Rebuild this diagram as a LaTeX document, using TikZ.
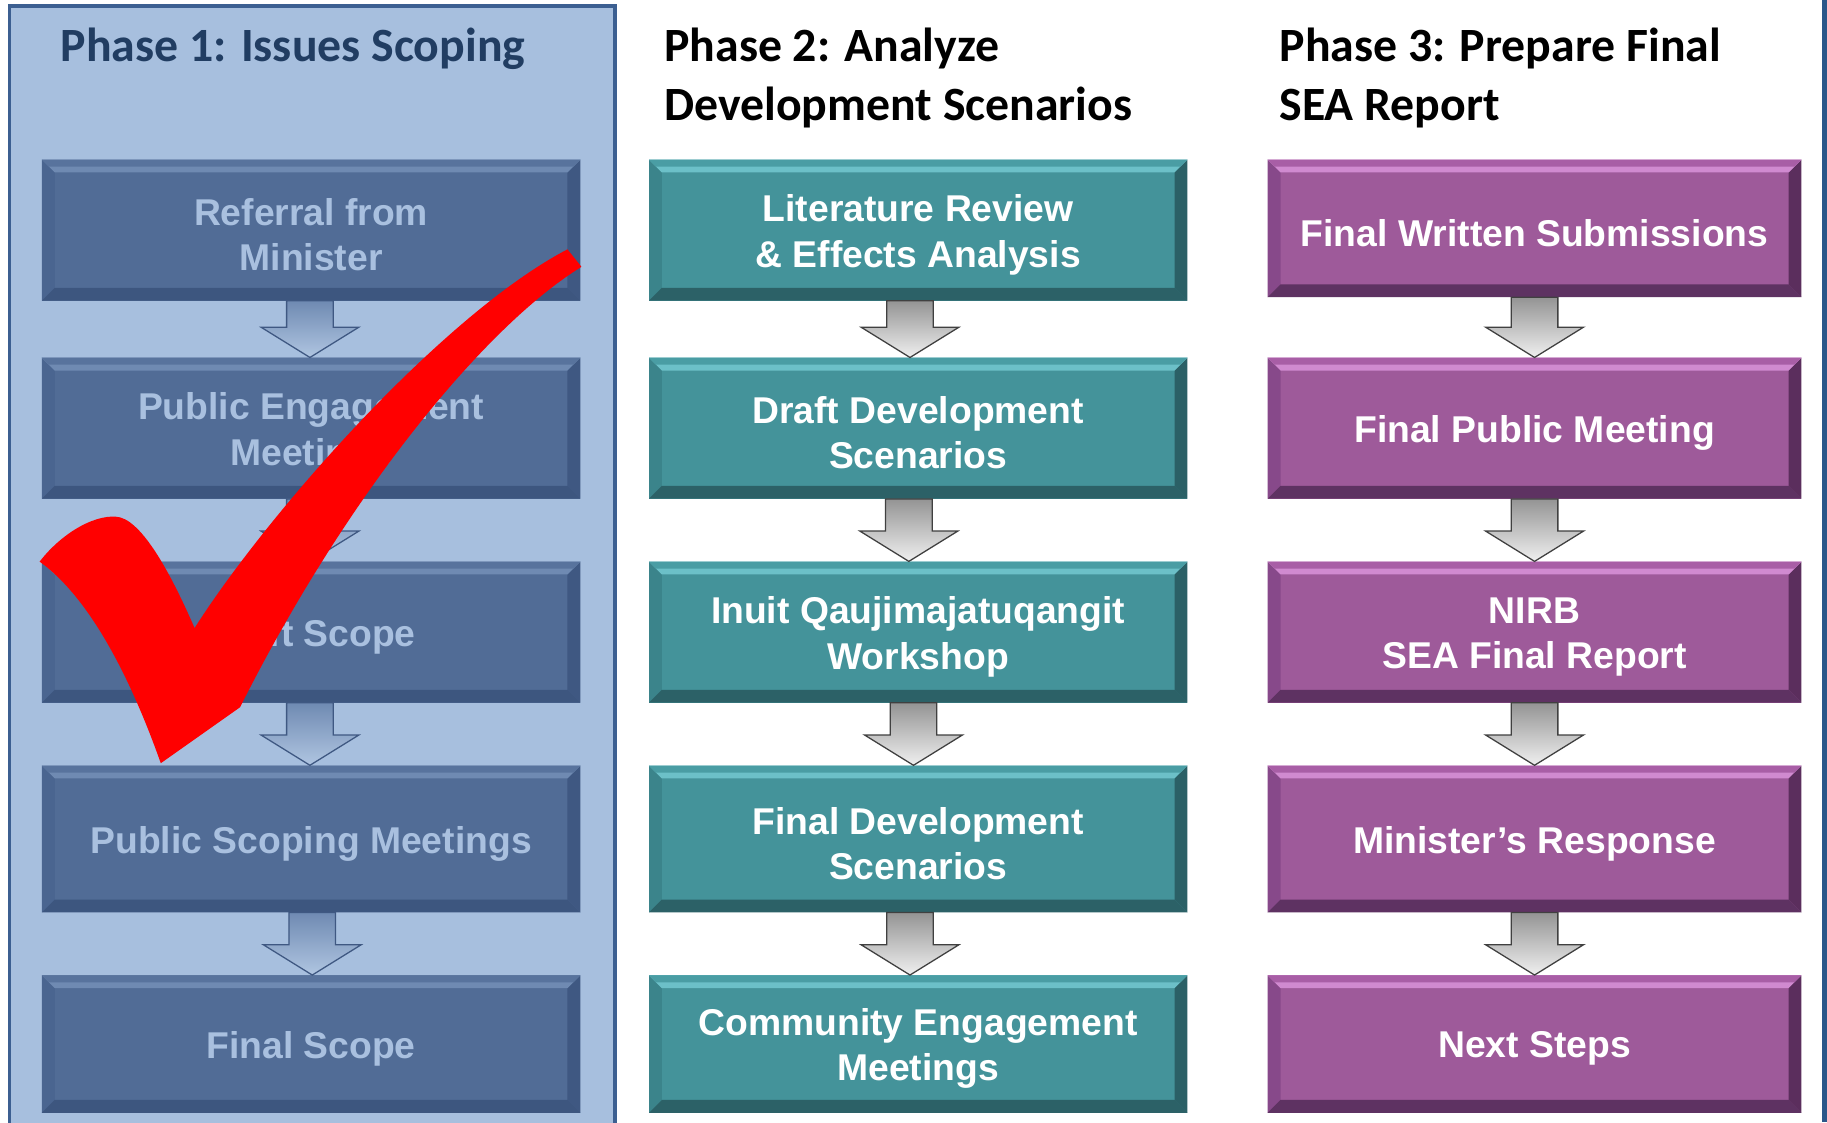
\documentclass[tikz,border=0pt]{standalone}
\usepackage{fontspec}
\setmainfont{Liberation Sans}
\newfontfamily\titlefont{Carlito}
\usetikzlibrary{calc}
\definecolor{pOneFace}{HTML}{516C96}
\definecolor{pOneTopMid}{HTML}{58739D}
\definecolor{pOneTop}{HTML}{6F8AB2}
\definecolor{pOneLeft}{HTML}{4A6590}
\definecolor{pOneRight}{HTML}{3F5882}
\definecolor{pOneBot}{HTML}{3D567F}
\definecolor{pOneText}{HTML}{A9C0DF}
\definecolor{pTwoFace}{HTML}{44939A}
\definecolor{pTwoTopMid}{HTML}{4A9DA4}
\definecolor{pTwoTop}{HTML}{6CC0C8}
\definecolor{pTwoLeft}{HTML}{3B848B}
\definecolor{pTwoRight}{HTML}{2B6066}
\definecolor{pTwoBot}{HTML}{2C6167}
\definecolor{pTwoText}{HTML}{FFFFFF}
\definecolor{pThreeFace}{HTML}{9E5A9A}
\definecolor{pThreeTopMid}{HTML}{A85EA6}
\definecolor{pThreeTop}{HTML}{D08AD0}
\definecolor{pThreeLeft}{HTML}{87498A}
\definecolor{pThreeRight}{HTML}{5B2E5D}
\definecolor{pThreeBot}{HTML}{5E3262}
\definecolor{pThreeText}{HTML}{FFFFFF}
\definecolor{panelFill}{HTML}{A7BFDE}
\definecolor{panelLine}{HTML}{3C5F91}
\definecolor{titleOne}{HTML}{213D62}
\definecolor{edgeLine}{HTML}{2B578A}
\newcommand\bevelpaint[1]{%
  \path (path picture bounding box.north west) coordinate (bNW)
        (path picture bounding box.north east) coordinate (bNE)
        (path picture bounding box.south west) coordinate (bSW)
        (path picture bounding box.south east) coordinate (bSE);
  \fill[#1Left] (bNW) -- ([xshift=11pt,yshift=-11pt]bNW) -- ([xshift=11pt,yshift=11pt]bSW) -- (bSW) -- cycle;
  \fill[#1Right] (bNE) -- ([xshift=-11pt,yshift=-11pt]bNE) -- ([xshift=-11pt,yshift=11pt]bSE) -- (bSE) -- cycle;
  \fill[#1Bot] (bSW) -- ([xshift=11pt,yshift=11pt]bSW) -- ([xshift=-11pt,yshift=11pt]bSE) -- (bSE) -- cycle;
  \fill[#1Top] (bNW) -- ([xshift=11pt,yshift=-11pt]bNW) -- ([xshift=-11pt,yshift=-11pt]bNE) -- (bNE) -- cycle;
  \fill[#1TopMid] (bNW) -- ([xshift=6pt,yshift=-6pt]bNW) -- ([xshift=-6pt,yshift=-6pt]bNE) -- (bNE) -- cycle;
}
% name, colour prefix, x, y, width, height, text
\newcommand\phasebox[7]{%
  \node[box=#2, minimum width=#5, minimum height=#6] (#1) at (#3,#4) {};
  \node[boxtext=#2] (#1t) at ([yshift=-4pt]#1.center) {#7};
}
\newcommand\blockarrow[4]{%
  \draw[#1] ([xshift=#4-20pt]#2.south) -- ([xshift=#4-20pt,yshift=26pt]#3.north)
    -- ([xshift=#4-42pt,yshift=26pt]#3.north) -- ([xshift=#4]#3.north)
    -- ([xshift=#4+42pt,yshift=26pt]#3.north) -- ([xshift=#4+20pt,yshift=26pt]#3.north)
    -- ([xshift=#4+20pt]#2.south) -- cycle;
}
\tikzset{
  box/.style={rectangle, inner sep=0pt, fill=#1Face, path picture={\bevelpaint{#1}}},
  boxtext/.style={inner sep=0pt, text=#1Text, align=center,
    font=\bfseries\fontsize{32}{39}\selectfont},
  grayarrow/.style={draw=black!75, line width=1.1pt, top color=black!42, bottom color=black!6, line join=miter},
  bluearrow/.style={draw=pOneRight, line width=1.1pt, top color=pOneTop, bottom color=panelFill!90!white, line join=miter},
  phasetitle/.style={anchor=base west, inner sep=0pt, font=\titlefont\bfseries\fontsize{41}{50}\selectfont},
}
\begin{document}
\begin{tikzpicture}[x=1pt,y=-1pt]
\useasboundingbox (0,0) rectangle (1568,963);
\fill[white] (0,0) rectangle (1568,963);
% phase 1 panel
\filldraw[fill=panelFill, draw=panelLine, line width=3pt] (8,5) rectangle (528,975);
\fill[edgeLine] (1563.5,0) rectangle (1570,963);
% titles
\node[phasetitle, text=titleOne] (t1) at (52,53) {Phase 1: Issues Scoping};
\node[phasetitle, text=black] (t2a) at (570,53) {Phase 2: Analyze};
\node[phasetitle, text=black] (t2b) at (570,103) {Development Scenarios};
\node[phasetitle, text=black] (t3a) at (1098,53) {Phase 3: Prepare Final};
\node[phasetitle, text=black] (t3b) at (1098,103) {SEA Report};
% phase 1 boxes
\phasebox{a1}{pOne}{267}{197.5}{462}{121}{Referral from\\Minister}
\phasebox{a2}{pOne}{267}{367.5}{462}{121}{Public Engagement\\Meetings}
\phasebox{a3}{pOne}{267}{542.5}{462}{121}{Draft Scope}
\phasebox{a4}{pOne}{267}{720}{462}{126}{Public Scoping Meetings}
\phasebox{a5}{pOne}{267}{896}{462}{118}{Final Scope}
% phase 2 boxes
\phasebox{b1}{pTwo}{788}{197.5}{462}{121}{Literature Review\\\& Effects Analysis}
\phasebox{b2}{pTwo}{788}{367.5}{462}{121}{Draft Development\\Scenarios}
\phasebox{b3}{pTwo}{788}{542.5}{462}{121}{Inuit Qaujimajatuqangit\\Workshop}
\phasebox{b4}{pTwo}{788}{720}{462}{126}{Final Development\\Scenarios}
\phasebox{b5}{pTwo}{788}{896}{462}{118}{Community Engagement\\Meetings}
% phase 3 boxes
\phasebox{c1}{pThree}{1317}{196}{458}{118}{Final Written Submissions}
\phasebox{c2}{pThree}{1317}{367.5}{458}{121}{Final Public Meeting}
\phasebox{c3}{pThree}{1317}{542.5}{458}{121}{NIRB\\SEA Final Report}
\phasebox{c4}{pThree}{1317}{720}{458}{126}{Minister’s Response}
\phasebox{c5}{pThree}{1317}{896}{458}{118}{Next Steps}
% arrows
\blockarrow{bluearrow}{a1}{a2}{-1pt}
\blockarrow{bluearrow}{a2}{a3}{-1pt}
\blockarrow{bluearrow}{a3}{a4}{-1pt}
\blockarrow{bluearrow}{a4}{a5}{1pt}
\blockarrow{grayarrow}{b1}{b2}{-7pt}
\blockarrow{grayarrow}{b2}{b3}{-8pt}
\blockarrow{grayarrow}{b3}{b4}{-4pt}
\blockarrow{grayarrow}{b4}{b5}{-7pt}
\blockarrow{grayarrow}{c1}{c2}{0pt}
\blockarrow{grayarrow}{c2}{c3}{0pt}
\blockarrow{grayarrow}{c3}{c4}{0pt}
\blockarrow{grayarrow}{c4}{c5}{0pt}
% red check mark
\fill[red] (34,482) .. controls (55,455) and (85,440) .. (103,444)
  .. controls (125,450) and (150,500) .. (167,539)
  .. controls (230,440) and (380,270) .. (487,214)
  -- (499,229)
  .. controls (418,279) and (300,420) .. (206,607)
  -- (138,655)
  .. controls (115,590) and (80,515) .. (34,482) -- cycle;
\end{tikzpicture}
\end{document}
